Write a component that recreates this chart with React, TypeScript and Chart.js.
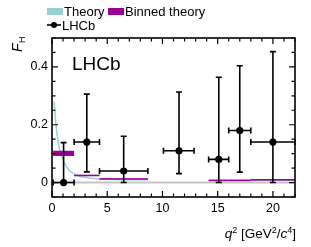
import React, { useEffect, useRef } from "react";
import { Chart, registerables } from "chart.js";

Chart.register(...registerables);

// LHCb measurements
const lhcbX = [1.05, 3.15, 6.49, 11.5, 15.1, 17.0, 20.0];
const lhcbY = [0.0, 0.14, 0.04, 0.11, 0.08, 0.18, 0.14];
const lhcbXLow = [0.1, 2.0, 4.3, 10.09, 14.18, 16.0, 18.0];
const lhcbXHigh = [2.0, 4.3, 8.68, 12.86, 16.0, 18.0, 22.0];
const lhcbYLow = [0.0, 0.037, 0.0, 0.031, 0.0, 0.036, 0.0];
const lhcbYHigh = [0.138, 0.306, 0.16, 0.313, 0.364, 0.404, 0.453];

// Theory curve (null breaks the line)
const theoryX = [0.2, 0.3, 0.42, 0.57, 0.7, 0.87, 1.0, 1.17, 1.4, 1.63, 2.08, 2.5, 3.0, 3.5, 4.0, 5.0, 6.0, 7.0, 8.68, 11, 14.18, 16, 18, 20, 22];
const theoryY = [0.28, 0.225, 0.18, 0.137, 0.112, 0.09, 0.078, 0.064, 0.05, 0.04, 0.028, 0.022, 0.018, 0.015, 0.013, 0.011, 0.01, 0.01, 0.01, null, 0.007, 0.007, 0.008, 0.008, 0.008];

// Binned theory
const binLo = [0.1, 2.0, 4.3, 14.18, 16.0, 18.0];
const binHi = [2.0, 4.3, 8.68, 16.0, 18.0, 22.0];
const binMin = [0.092, 0.023, 0.011, 0.006, 0.006, 0.008];
const binMax = [0.11, 0.026, 0.014, 0.009, 0.009, 0.011];

// Axis ticks
const xMajorTicks = [0, 5, 10, 15, 20];
const yMajorTicks = [0, 0.2, 0.4];

const FONT = "'Liberation Sans', Arial, Helvetica, sans-serif";
const CYAN = "#98d1d1";
const MAGENTA = "#990099";

const overlayPlugin = {
  id: "overlay",
  beforeDatasetsDraw(chart: any) {
    const { ctx, scales } = chart;
    const xs = scales.x, ys = scales.y;
    ctx.save();
    ctx.strokeStyle = "#c4c4c4";
    ctx.lineWidth = 2;
    ctx.beginPath();
    ctx.moveTo(xs.getPixelForValue(0), ys.getPixelForValue(0));
    ctx.lineTo(xs.getPixelForValue(22), ys.getPixelForValue(0));
    ctx.stroke();
    ctx.restore();
  },
  afterDatasetDraw(chart: any, args: any) {
    if (args.index !== 1) return;
    const { ctx, scales } = chart;
    const xs = scales.x, ys = scales.y;
    ctx.save();
    ctx.fillStyle = MAGENTA;
    for (let i = 0; i < binLo.length; i++) {
      const x0 = xs.getPixelForValue(binLo[i]);
      const x1 = xs.getPixelForValue(binHi[i]);
      let y0 = ys.getPixelForValue(binMax[i]);
      let y1 = ys.getPixelForValue(binMin[i]);
      if (y1 - y0 < 1.6) {
        const c = (y0 + y1) / 2;
        y0 = c - 0.8;
        y1 = c + 0.8;
      }
      ctx.fillRect(x0, y0, x1 - x0, y1 - y0);
    }
    ctx.restore();
  },
  afterDatasetsDraw(chart: any) {
    const { ctx, scales } = chart;
    const xs = scales.x, ys = scales.y;
    ctx.save();
    ctx.strokeStyle = "#000";
    ctx.lineWidth = 1.6;
    const cap = 3;
    for (let i = 0; i < lhcbX.length; i++) {
      const px = xs.getPixelForValue(lhcbX[i]);
      const py = ys.getPixelForValue(lhcbY[i]);
      const xl = xs.getPixelForValue(lhcbXLow[i]);
      const xh = xs.getPixelForValue(lhcbXHigh[i]);
      const yl = ys.getPixelForValue(lhcbYLow[i]);
      const yh = ys.getPixelForValue(lhcbYHigh[i]);
      ctx.beginPath();
      ctx.moveTo(xl, py); ctx.lineTo(xh, py);
      ctx.moveTo(xl, py - cap); ctx.lineTo(xl, py + cap);
      ctx.moveTo(xh, py - cap); ctx.lineTo(xh, py + cap);
      ctx.moveTo(px, yl); ctx.lineTo(px, yh);
      ctx.moveTo(px - cap, yl); ctx.lineTo(px + cap, yl);
      ctx.moveTo(px - cap, yh); ctx.lineTo(px + cap, yh);
      ctx.stroke();
    }
    ctx.restore();
  },
  afterDraw(chart: any) {
    const { ctx, scales, chartArea } = chart;
    const xs = scales.x, ys = scales.y;
    const { left, right, top, bottom } = chartArea;
    ctx.save();
    // frame
    ctx.strokeStyle = "#000";
    ctx.lineWidth = 1.6;
    ctx.strokeRect(left, top, right - left, bottom - top);
    // ticks
    ctx.lineWidth = 1.2;
    ctx.beginPath();
    for (let v = 0; v <= 22; v += 1) {
      const p = xs.getPixelForValue(v);
      const len = v % 5 === 0 ? 6 : 3.5;
      ctx.moveTo(p, bottom); ctx.lineTo(p, bottom - len);
      ctx.moveTo(p, top); ctx.lineTo(p, top + len);
    }
    for (let k = -1; k <= 10; k++) {
      const v = k * 0.05;
      const p = ys.getPixelForValue(v);
      if (p < top || p > bottom) continue;
      const len = k % 4 === 0 ? 6 : 3.5;
      ctx.moveTo(left, p); ctx.lineTo(left + len, p);
      ctx.moveTo(right, p); ctx.lineTo(right - len, p);
    }
    ctx.stroke();

    ctx.fillStyle = "#000";
    ctx.textBaseline = "alphabetic";
    // LHCb label in plot
    ctx.font = `19px ${FONT}`;
    ctx.textAlign = "left";
    ctx.fillText("LHCb", 72, 70);

    // legend
    ctx.font = `13px ${FONT}`;
    ctx.fillStyle = CYAN;
    ctx.fillRect(47, 8, 16, 7);
    ctx.fillStyle = MAGENTA;
    ctx.fillRect(108, 8, 16, 7);
    ctx.fillStyle = "#000";
    ctx.fillText("Theory", 64, 16);
    ctx.fillText("Binned theory", 125, 16);
    ctx.lineWidth = 1.6;
    ctx.beginPath();
    ctx.moveTo(47, 25); ctx.lineTo(61, 25);
    ctx.stroke();
    ctx.beginPath();
    ctx.arc(54, 25, 3, 0, Math.PI * 2);
    ctx.fill();
    ctx.fillText("LHCb", 62, 30);

    // x title: q^2 [GeV^2/c^4], right aligned
    const parts: [string, string, number][] = [
      ["q", `italic 13.5px ${FONT}`, 0],
      ["2", `9px ${FONT}`, -5],
      [" [GeV", `13.5px ${FONT}`, 0],
      ["2", `9px ${FONT}`, -5],
      ["/", `13.5px ${FONT}`, 0],
      ["c", `italic 13.5px ${FONT}`, 0],
      ["4", `9px ${FONT}`, -5],
      ["]", `13.5px ${FONT}`, 0],
    ];
    let total = 0;
    for (const [t, f] of parts) { ctx.font = f; total += ctx.measureText(t).width; }
    let x = right + 1 - total;
    const base = 238;
    for (const [t, f, dy] of parts) {
      ctx.font = f;
      ctx.fillText(t, x, base + dy);
      x += ctx.measureText(t).width;
    }

    // y title: F_H rotated
    ctx.save();
    ctx.translate(22, 52);
    ctx.rotate(-Math.PI / 2);
    ctx.font = `italic 14px ${FONT}`;
    ctx.fillText("F", 0, 0);
    const fw = ctx.measureText("F").width;
    ctx.font = `9px ${FONT}`;
    ctx.fillText("H", fw + 0.5, 3);
    ctx.restore();

    ctx.restore();
  },
};

export default function App() {
  const ref = useRef<HTMLCanvasElement | null>(null);
  useEffect(() => {
    document.body.style.margin = "0";
    const canvas = ref.current;
    if (!canvas) return;
    const theoryData = theoryX.map((x, i) => ({ x, y: theoryY[i] }));
    const pointData = lhcbX.map((x, i) => ({ x, y: lhcbY[i] }));
    const chart = new Chart(canvas, {
      type: "line",
      data: {
        datasets: [
          {
            label: "LHCb",
            data: pointData as any,
            showLine: false,
            pointRadius: 3.6,
            pointBackgroundColor: "#000",
            pointBorderColor: "#000",
            pointBorderWidth: 0,
            order: 1,
          },
          {
            label: "Theory",
            data: theoryData as any,
            borderColor: CYAN,
            borderWidth: 1.5,
            pointRadius: 0,
            spanGaps: false,
            tension: 0.3,
            fill: false,
            order: 2,
          },
        ],
      },
      options: {
        responsive: false,
        animation: false,
        devicePixelRatio: 1,
        layout: { padding: { top: 38, right: 16, left: 0, bottom: 0 } },
        plugins: { legend: { display: false }, tooltip: { enabled: false } },
        scales: {
          x: {
            type: "linear",
            min: 0,
            max: 22,
            grid: { display: false, drawTicks: false },
            border: { display: false },
            afterBuildTicks: (s: any) => { s.ticks = xMajorTicks.map((v) => ({ value: v })); },
            afterFit: (s: any) => { s.height = 50; },
            ticks: {
              padding: 4,
              color: "#000",
              font: { family: FONT, size: 12.5 },
              maxRotation: 0,
              callback: (v: any) => String(v),
            },
          },
          y: {
            type: "linear",
            min: -0.05,
            max: 0.5,
            grid: { display: false, drawTicks: false },
            border: { display: false },
            afterBuildTicks: (s: any) => { s.ticks = yMajorTicks.map((v) => ({ value: v })); },
            afterFit: (s: any) => { s.width = 52; },
            ticks: {
              padding: 4,
              color: "#000",
              font: { family: FONT, size: 12.5 },
              callback: (v: any) => (v === 0 ? "0" : String(v)),
            },
          },
        },
      },
      plugins: [overlayPlugin],
    });
    return () => chart.destroy();
  }, []);
  return (
    <div style={{ width: 311, height: 247 }}>
      <canvas ref={ref} width={311} height={247} />
    </div>
  );
}
